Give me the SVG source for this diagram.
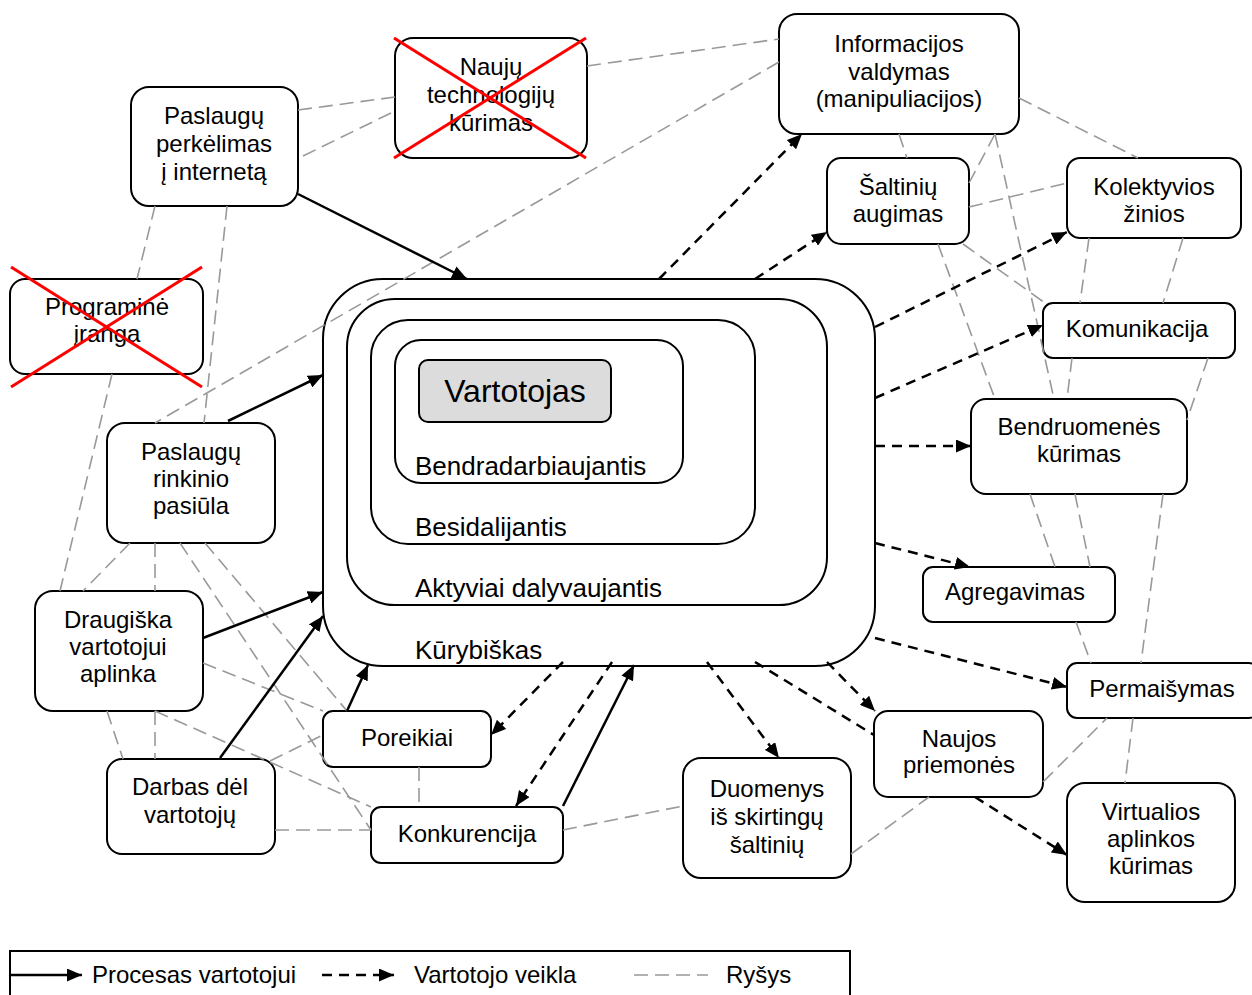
<svg xmlns="http://www.w3.org/2000/svg" width="1252" height="995" viewBox="0 0 1252 995">
<style>
.n{fill:#fff;stroke:#000;stroke-width:2}
.b{fill:none;stroke:#000;stroke-width:2}
.t{font-family:"Liberation Sans",Arial,sans-serif;font-size:24px;fill:#000;text-anchor:middle}
.l{font-family:"Liberation Sans",Arial,sans-serif;font-size:26px;fill:#000}
.x{stroke:#ff0000;stroke-width:3}
.s{fill:none;stroke:#000;stroke-width:2.5;marker-end:url(#ah)}
.d{fill:none;stroke:#000;stroke-width:2.5;stroke-dasharray:10 7}
.da{marker-end:url(#ah)}
.g{fill:none;stroke:#999;stroke-width:1.6;stroke-dasharray:14 7}
</style>
<defs>
<marker id="ah" markerUnits="userSpaceOnUse" markerWidth="16" markerHeight="13" refX="15" refY="6.5" orient="auto">
<path d="M0,0 L15,6.5 L0,13 Z" fill="#000"/>
</marker>
</defs>
<rect width="1252" height="995" fill="#fff"/>

<g id="user-levels">
<rect class="b" x="323" y="279" width="552" height="387" rx="60"/>
<rect class="b" x="347" y="299" width="480" height="306" rx="48"/>
<rect class="b" x="371" y="320" width="384" height="224" rx="37"/>
<rect class="b" x="395" y="340" width="288" height="143" rx="26"/>
<text class="l" x="415" y="475">Bendradarbiaujantis</text>
<text class="l" x="415" y="536">Besidalijantis</text>
<text class="l" x="415" y="597">Aktyviai dalyvaujantis</text>
<text class="l" x="415" y="659">Kūrybiškas</text>
</g>
<g id="vartotojas">
<rect x="419" y="360" width="192" height="62" rx="9" fill="#dcdcdc" stroke="#000" stroke-width="2"/>
<text class="t" x="515" y="402" style="font-size:32px">Vartotojas</text>
</g>

<g id="paslaugu-perkelimas">
<rect class="n" x="131" y="87" width="167" height="119" rx="18"/>
<text class="t" x="214" y="124">Paslaugų<tspan x="214" y="152">perkėlimas</tspan><tspan x="214" y="180">į internetą</tspan></text>
</g>
<g id="nauju-technologiju">
<rect class="n" x="395" y="38" width="192" height="120" rx="18"/>
<text class="t" x="491" y="75">Naujų<tspan x="491" y="103">technologijų</tspan><tspan x="491" y="131">kūrimas</tspan></text>
<line class="x" x1="394" y1="38" x2="586" y2="158"/>
<line class="x" x1="586" y1="38" x2="394" y2="158"/>
</g>
<g id="programine-iranga">
<rect class="n" x="10" y="279" width="193" height="95" rx="15"/>
<text class="t" x="107" y="315">Programinė<tspan x="107" y="342">įranga</tspan></text>
<line class="x" x1="11" y1="267" x2="202" y2="387"/>
<line class="x" x1="202" y1="267" x2="11" y2="387"/>
</g>
<g id="informacijos-valdymas">
<rect class="n" x="779" y="14" width="240" height="120" rx="18"/>
<text class="t" x="899" y="52">Informacijos<tspan x="899" y="80">valdymas</tspan><tspan x="899" y="107">(manipuliacijos)</tspan></text>
</g>
<g id="saltiniu-augimas">
<rect class="n" x="827" y="158" width="142" height="86" rx="14"/>
<text class="t" x="898" y="195">Šaltinių<tspan x="898" y="222">augimas</tspan></text>
</g>
<g id="kolektyvios-zinios">
<rect class="n" x="1067" y="158" width="174" height="80" rx="13"/>
<text class="t" x="1154" y="195">Kolektyvios<tspan x="1154" y="222">žinios</tspan></text>
</g>
<g id="komunikacija">
<rect class="n" x="1043" y="303" width="192" height="55" rx="10"/>
<text class="t" x="1137" y="337">Komunikacija</text>
</g>
<g id="bendruomenes-kurimas">
<rect class="n" x="971" y="399" width="216" height="95" rx="15"/>
<text class="t" x="1079" y="435">Bendruomenės<tspan x="1079" y="462">kūrimas</tspan></text>
</g>
<g id="agregavimas">
<rect class="n" x="923" y="567" width="192" height="55" rx="10"/>
<text class="t" x="1015" y="600">Agregavimas</text>
</g>
<g id="permaisymas">
<rect class="n" x="1067" y="663" width="192" height="55" rx="10"/>
<text class="t" x="1162" y="697">Permaišymas</text>
</g>
<g id="naujos-priemones">
<rect class="n" x="874" y="711" width="169" height="86" rx="14"/>
<text class="t" x="959" y="747">Naujos<tspan x="959" y="773">priemonės</tspan></text>
</g>
<g id="virtualios-aplinkos">
<rect class="n" x="1067" y="783" width="168" height="119" rx="18"/>
<text class="t" x="1151" y="820">Virtualios<tspan x="1151" y="847">aplinkos</tspan><tspan x="1151" y="874">kūrimas</tspan></text>
</g>
<g id="duomenys">
<rect class="n" x="683" y="758" width="168" height="120" rx="18"/>
<text class="t" x="767" y="797">Duomenys<tspan x="767" y="825">iš skirtingų</tspan><tspan x="767" y="853">šaltinių</tspan></text>
</g>
<g id="konkurencija">
<rect class="n" x="371" y="807" width="192" height="56" rx="10"/>
<text class="t" x="467" y="842">Konkurencija</text>
</g>
<g id="poreikiai">
<rect class="n" x="323" y="711" width="168" height="56" rx="10"/>
<text class="t" x="407" y="746">Poreikiai</text>
</g>
<g id="paslaugu-rinkinio">
<rect class="n" x="107" y="423" width="168" height="120" rx="18"/>
<text class="t" x="191" y="460">Paslaugų<tspan x="191" y="487">rinkinio</tspan><tspan x="191" y="514">pasiūla</tspan></text>
</g>
<g id="draugiska-aplinka">
<rect class="n" x="35" y="591" width="168" height="120" rx="18"/>
<text class="t" x="118" y="628">Draugiška<tspan x="118" y="655">vartotojui</tspan><tspan x="118" y="682">aplinka</tspan></text>
</g>
<g id="darbas-del-vartotoju">
<rect class="n" x="107" y="759" width="168" height="95" rx="15"/>
<text class="t" x="190" y="795">Darbas dėl<tspan x="190" y="823">vartotojų</tspan></text>
</g>

<g id="connectors">
<g id="rysiai">
<line class="g" x1="298" y1="110" x2="395" y2="97"/>
<line class="g" x1="303" y1="156" x2="395" y2="111"/>
<line class="g" x1="587" y1="66" x2="779" y2="39"/>
<line class="g" x1="779" y1="62" x2="155" y2="423"/>
<line class="g" x1="155" y1="206" x2="137" y2="279"/>
<line class="g" x1="227" y1="206" x2="204" y2="423"/>
<line class="g" x1="112" y1="374" x2="60" y2="591"/>
<line class="g" x1="130" y1="543" x2="83" y2="591"/>
<line class="g" x1="155" y1="543" x2="155" y2="591"/>
<line class="g" x1="180" y1="543" x2="371" y2="830"/>
<line class="g" x1="205" y1="543" x2="347" y2="711"/>
<line class="g" x1="203" y1="663" x2="323" y2="711"/>
<line class="g" x1="155" y1="711" x2="371" y2="807"/>
<line class="g" x1="107" y1="711" x2="123" y2="759"/>
<line class="g" x1="155" y1="711" x2="155" y2="759"/>
<line class="g" x1="270" y1="761" x2="323" y2="735"/>
<line class="g" x1="275" y1="830" x2="371" y2="830"/>
<line class="g" x1="419" y1="767" x2="419" y2="807"/>
<line class="g" x1="563" y1="830" x2="683" y2="806"/>
<line class="g" x1="851" y1="854" x2="929" y2="797"/>
<line class="g" x1="1043" y1="782" x2="1107" y2="718"/>
<line class="g" x1="1133" y1="718" x2="1125" y2="783"/>
<line class="g" x1="1019" y1="98" x2="1138" y2="158"/>
<line class="g" x1="899" y1="134" x2="907" y2="158"/>
<line class="g" x1="995" y1="134" x2="969" y2="183"/>
<line class="g" x1="995" y1="134" x2="1054" y2="399"/>
<line class="g" x1="969" y1="207" x2="1067" y2="183"/>
<line class="g" x1="938" y1="244" x2="995" y2="399"/>
<line class="g" x1="963" y1="244" x2="1045" y2="303"/>
<line class="g" x1="1089" y1="238" x2="1080" y2="303"/>
<line class="g" x1="1183" y1="238" x2="1163" y2="303"/>
<line class="g" x1="1072" y1="358" x2="1067" y2="399"/>
<line class="g" x1="1208" y1="358" x2="1187" y2="420"/>
<line class="g" x1="1030" y1="494" x2="1055" y2="567"/>
<line class="g" x1="1075" y1="494" x2="1090" y2="567"/>
<line class="g" x1="1163" y1="494" x2="1141" y2="663"/>
<line class="g" x1="1076" y1="622" x2="1091" y2="663"/>
</g>
<g id="procesai">
<line class="s" x1="298" y1="194" x2="467" y2="279"/>
<line class="s" x1="228" y1="421" x2="323" y2="375"/>
<line class="s" x1="203" y1="638" x2="323" y2="592"/>
<line class="s" x1="220" y1="758" x2="323" y2="616"/>
<line class="s" x1="347" y1="711" x2="368" y2="665"/>
<line class="s" x1="563" y1="806" x2="634" y2="665"/>
</g>
<g id="veikla">
<line class="d da" x1="659" y1="279" x2="802" y2="134"/>
<line class="d da" x1="755" y1="279" x2="827" y2="232"/>
<line class="d da" x1="875" y1="327" x2="1067" y2="232"/>
<line class="d da" x1="875" y1="398" x2="1043" y2="325"/>
<line class="d da" x1="875" y1="446" x2="971" y2="446"/>
<line class="d da" x1="875" y1="543" x2="970" y2="567"/>
<line class="d da" x1="875" y1="638" x2="1067" y2="687"/>
<line class="d da" x1="827" y1="662" x2="875" y2="711"/>
<line class="d" x1="755" y1="662" x2="874" y2="735"/>
<line class="d da" x1="707" y1="662" x2="779" y2="758"/>
<line class="d da" x1="612" y1="662" x2="516" y2="806"/>
<line class="d da" x1="563" y1="662" x2="491" y2="735"/>
<line class="d da" x1="975" y1="797" x2="1067" y2="855"/>
</g>
</g>

<g id="legend">
<rect x="10" y="951" width="840" height="60" fill="none" stroke="#000" stroke-width="2"/>
<line class="s" x1="10" y1="975" x2="82" y2="975"/>
<text class="l" x="92" y="983" style="font-size:24px">Procesas vartotojui</text>
<line class="d da" x1="322" y1="975" x2="394" y2="975"/>
<text class="l" x="414" y="983" style="font-size:24px">Vartotojo veikla</text>
<line class="g" x1="634" y1="975" x2="708" y2="975"/>
<text class="l" x="726" y="983" style="font-size:24px">Ryšys</text>
</g>
</svg>
